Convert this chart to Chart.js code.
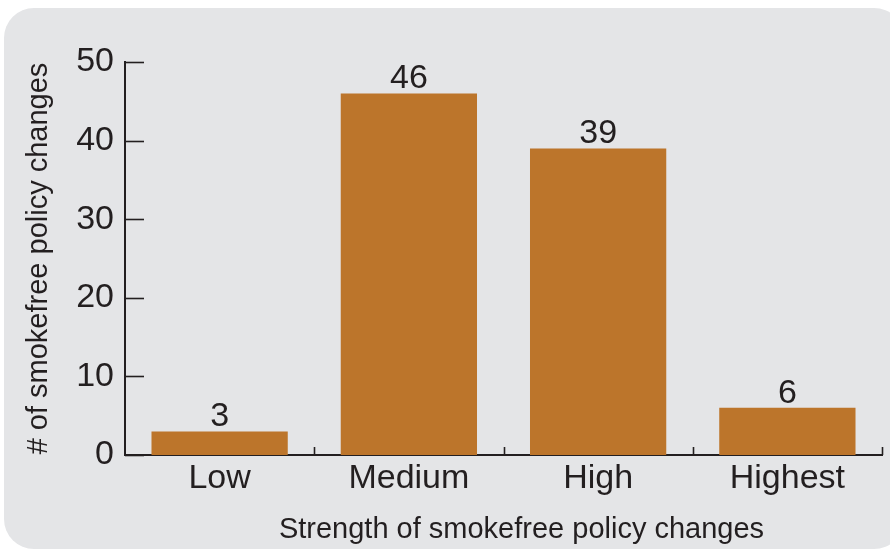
<!DOCTYPE html>
<html>
<head>
<meta charset="utf-8">
<script src="https://cdn.jsdelivr.net/npm/chart.js@4.4.1/dist/chart.umd.min.js"></script>
<style>
  html, body { margin: 0; padding: 0; background: #ffffff; }
  #wrap { width: 890px; height: 550px; position: relative; }
</style>
</head>
<body>
<div id="wrap"><canvas id="mycanvas" width="890" height="550"></canvas></div>
<script>
var categories = ['Low', 'Medium', 'High', 'Highest'];
var policyChanges = [3, 46, 39, 6];
var yTicks = [0, 10, 20, 30, 40, 50];
var xTitle = 'Strength of smokefree policy changes';

var ink = '#231f20';
var barColor = '#bc752b';
var fontFam = '"Liberation Sans", Arial, sans-serif';

// gray rounded panel behind the chart, plus axis ticks, x title and value labels
var decor = {
	id: 'decor',
	beforeDraw: function(chart) {
		var c = chart.ctx;
		c.save();
		c.fillStyle = '#e4e5e7';
		c.beginPath();
		c.roundRect(4, 8, 900, 541, 30);
		c.fill();
		c.restore();
	},
	afterDraw: function(chart) {
		var c = chart.ctx;
		var x = chart.scales.x, y = chart.scales.y;
		var area = chart.chartArea;
		c.save();
		c.strokeStyle = ink;
		c.lineWidth = 1.6;
		// y ticks pointing inward
		yTicks.forEach(function(v) {
			var py = Math.round(y.getPixelForValue(v)) + 0.5;
			c.beginPath();
			c.moveTo(area.left, py);
			c.lineTo(area.left + 19, py);
			c.stroke();
		});
		// x ticks between categories, pointing up
		var step = x.getPixelForValue(1) - x.getPixelForValue(0);
		for (var i = 0; i < categories.length; i++) {
			var px = Math.round(x.getPixelForValue(i) + step / 2) + 0.5;
			c.beginPath();
			c.moveTo(px, area.bottom);
			c.lineTo(px, area.bottom - 8);
			c.stroke();
		}
		c.fillStyle = ink;
		c.textAlign = 'center';
		c.textBaseline = 'alphabetic';
		// value labels
		c.font = '34px ' + fontFam;
		var meta = chart.getDatasetMeta(0);
		meta.data.forEach(function(bar, i) {
			c.fillText(policyChanges[i], bar.x, bar.y - 5);
		});
		// x axis title
		c.font = '29px ' + fontFam;
		c.fillText(xTitle, (area.left + area.right) / 2 + 18, 538);
		c.restore();
	}
};

var chartdata = {
	labels: categories,
	datasets: [{
		label: '# of smokefree policy changes',
		backgroundColor: barColor,
		borderWidth: 0,
		data: policyChanges,
		categoryPercentage: 1,
		barPercentage: 0.72
	}]
};

var ctx = document.getElementById('mycanvas');
var barGraph = new Chart(ctx, {
	type: 'bar',
	data: chartdata,
	plugins: [decor],
	options: {
		responsive: false,
		animation: false,
		layout: { padding: { left: 22, right: 8, top: 62, bottom: 0 } },
		plugins: {
			legend: { display: false },
			tooltip: { enabled: false }
		},
		scales: {
			x: {
				grid: { display: false, drawTicks: false },
				border: { display: true, color: ink, width: 2 },
				ticks: {
					color: ink,
					padding: 3,
					font: { family: fontFam, size: 34 }
				},
				afterFit: function(scale) { scale.height = 95; }
			},
			y: {
				min: 0,
				max: 50,
				grid: { display: false, drawTicks: false },
				border: { display: true, color: ink, width: 2 },
				ticks: {
					stepSize: 10,
					color: ink,
					padding: 11,
					font: { family: fontFam, size: 34 }
				},
				title: {
					display: true,
					text: '# of smokefree policy changes',
					color: ink,
					padding: 0,
					font: { family: fontFam, size: 29 }
				},
				afterFit: function(scale) { scale.width = 103; }
			}
		}
	}
});
</script>
</body>
</html>
